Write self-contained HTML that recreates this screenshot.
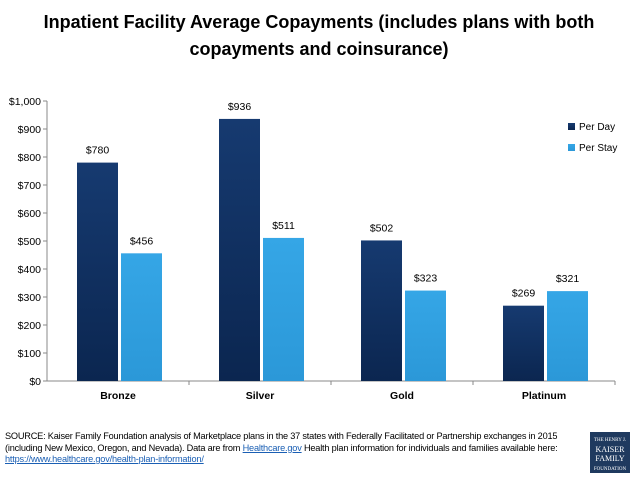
<!DOCTYPE html>
<html><head><meta charset="utf-8"><style>
body{margin:0;width:638px;height:479px;background:#fff;font-family:"Liberation Sans",sans-serif;overflow:hidden;position:relative}
.title{position:absolute;top:9px;left:0;width:638px;text-align:center;font-weight:bold;font-size:18px;line-height:27px;color:#000}
.src{position:absolute;left:5px;top:431px;width:585px;font-size:9.2px;line-height:11.5px;color:#000;letter-spacing:-0.2px;white-space:nowrap}
.src a{color:#1a5fb4;text-decoration:underline}
.logo{position:absolute;left:590px;top:432px;width:40px;height:41px;background:#1f3a5f;color:#fff;font-family:"Liberation Serif",serif;font-size:8px;text-align:center;line-height:9px;padding-top:2px;box-sizing:border-box}
</style></head><body>
<div class="title">Inpatient Facility Average Copayments (includes plans with both<br>copayments and coinsurance)</div>
<svg id="chart" width="638" height="420" style="position:absolute;left:0;top:0">
<defs>
<linearGradient id="gd" x1="0" y1="0" x2="0" y2="1"><stop offset="0" stop-color="#163a70"/><stop offset="1" stop-color="#0b2650"/></linearGradient>
<linearGradient id="gl" x1="0" y1="0" x2="0" y2="1"><stop offset="0" stop-color="#35a6e6"/><stop offset="1" stop-color="#2b98d8"/></linearGradient>
</defs>
</svg>
<div class="src">SOURCE: Kaiser Family Foundation analysis of Marketplace plans in the 37 states with Federally Facilitated or Partnership exchanges in 2015<br>(including New Mexico, Oregon, and Nevada). Data are from <a>Healthcare.gov</a> Health plan information for individuals and families available here:<br><a>https://www.healthcare.gov/health-plan-information/</a></div>
<div class="logo"><span style="font-size:5px">THE HENRY J.</span><br>KAISER<br>FAMILY<br><span style="font-size:5px">FOUNDATION</span></div>
<script>
const categories=["Bronze","Silver","Gold","Platinum"];
const perDay=[780,936,502,269];
const perStay=[456,511,323,321];
const yTicks=[0,100,200,300,400,500,600,700,800,900,1000];
const seriesNames=["Per Day","Per Stay"];
const svg=document.getElementById('chart');
const NS="http://www.w3.org/2000/svg";
const x0=47,x1=615,y0=381,y1=101,yMax=1000;
const y=v=>y0-(v/yMax)*(y0-y1);
const band=(x1-x0)/categories.length;
const cx=i=>x0+band*(i+0.5);
function mk(t,a,txt){const e=document.createElementNS(NS,t);for(const k in a)e.setAttribute(k,a[k]);if(txt!=null)e.textContent=txt;svg.appendChild(e);return e;}
let e;
e=mk('line',{x1:x0,y1:y0,x2:x0,y2:y1,stroke:'#888','stroke-width':1});


e=mk('line',{x1:x0,y1:y0,x2:x1,y2:y0,stroke:'#888','stroke-width':1});


yTicks.forEach(v=>{
 mk('line',{x1:x0-4,y1:y(v),x2:x0,y2:y(v),stroke:'#888'});
 e=mk('text',{x:x0-6,y:y(v)+4,'text-anchor':'end','font-size':10.5,fill:'#000'},'$'+v.toLocaleString('en-US'));
 
 
});
categories.forEach((c,i)=>{
 mk('line',{x1:x0+band*(i+1),y1:y0,x2:x0+band*(i+1),y2:y0+4,stroke:'#888'});
 e=mk('text',{x:cx(i),y:y0+18,'text-anchor':'middle','font-size':10.5,'font-weight':'bold',fill:'#000'},c);
 
 
 const bw=41;
 e=mk('rect',{x:cx(i)-bw,y:y(perDay[i]),width:bw,height:y0-y(perDay[i]),fill:'url(#gd)'});
 
 
 e=mk('rect',{x:cx(i)+3,y:y(perStay[i]),width:bw,height:y0-y(perStay[i]),fill:'url(#gl)'});
 
 
 e=mk('text',{x:cx(i)-bw/2,y:y(perDay[i])-9,'text-anchor':'middle','font-size':10.5,fill:'#000'},'$'+perDay[i]);
 
 
 e=mk('text',{x:cx(i)+3+bw/2,y:y(perStay[i])-9,'text-anchor':'middle','font-size':10.5,fill:'#000'},'$'+perStay[i]);
 
 
});
const lc=['url(#gd)','url(#gl)'];
seriesNames.forEach((n,i)=>{
 e=mk('rect',{x:568,y:123+i*21,width:7,height:7,fill:lc[i]});
 
 
 e=mk('text',{x:579,y:130+i*21,'font-size':10,fill:'#000'},n);
 
 
});
</script>
</body></html>
